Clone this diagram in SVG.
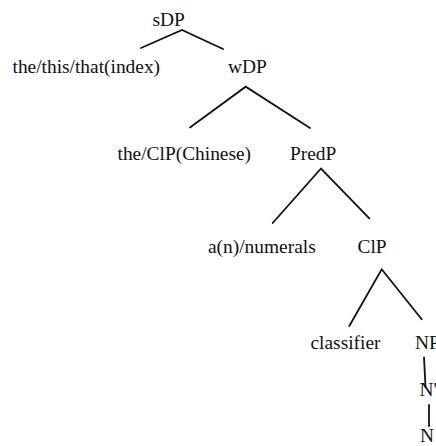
<svg xmlns="http://www.w3.org/2000/svg" width="436" height="446" viewBox="0 0 436 446">
  <style>
    .lbl { font-family: "Liberation Serif", "Times New Roman", serif; font-size: 19.4px; fill: #111; }
    .edge { stroke: #111; stroke-width: 1.8; fill: none; stroke-linecap: round; }
  </style>
  <rect width="436" height="446" fill="#fff"/>

  <!-- tree branches -->
  <g id="connectors">
    <polyline class="edge" points="141,48 182,30 223,49"/>
    <polyline class="edge" points="190,127.5 245.7,86.7 310,128"/>
    <polyline class="edge" points="272.7,223 321,168.5 369.3,218.3"/>
    <polyline class="edge" points="349.3,326 381.7,269.3 421.7,319.3"/>
    <line class="edge" x1="424" y1="357.3" x2="425.5" y2="387"/>
    <line class="edge" x1="429" y1="405" x2="429" y2="426"/>
  </g>

  <!-- tree nodes -->
  <g id="sDP"><text class="lbl" x="152.5" y="26">sDP</text></g>
  <g id="index"><text class="lbl" x="12.5" y="72.5">the/this/that(index)</text></g>
  <g id="wDP"><text class="lbl" x="228" y="72.5">wDP</text></g>
  <g id="chinese"><text class="lbl" x="117.5" y="160">the/ClP(Chinese)</text></g>
  <g id="PredP"><text class="lbl" x="290" y="160">PredP</text></g>
  <g id="numerals"><text class="lbl" x="208" y="253">a(n)/numerals</text></g>
  <g id="ClP"><text class="lbl" x="357.5" y="253">ClP</text></g>
  <g id="classifier"><text class="lbl" x="310.5" y="349">classifier</text></g>
  <g id="NP"><text class="lbl" x="415" y="349">NP</text></g>
  <g id="Nbar"><text class="lbl" x="419.5" y="396">N'</text></g>
  <g id="N"><text class="lbl" x="420" y="442">N</text></g>
</svg>
